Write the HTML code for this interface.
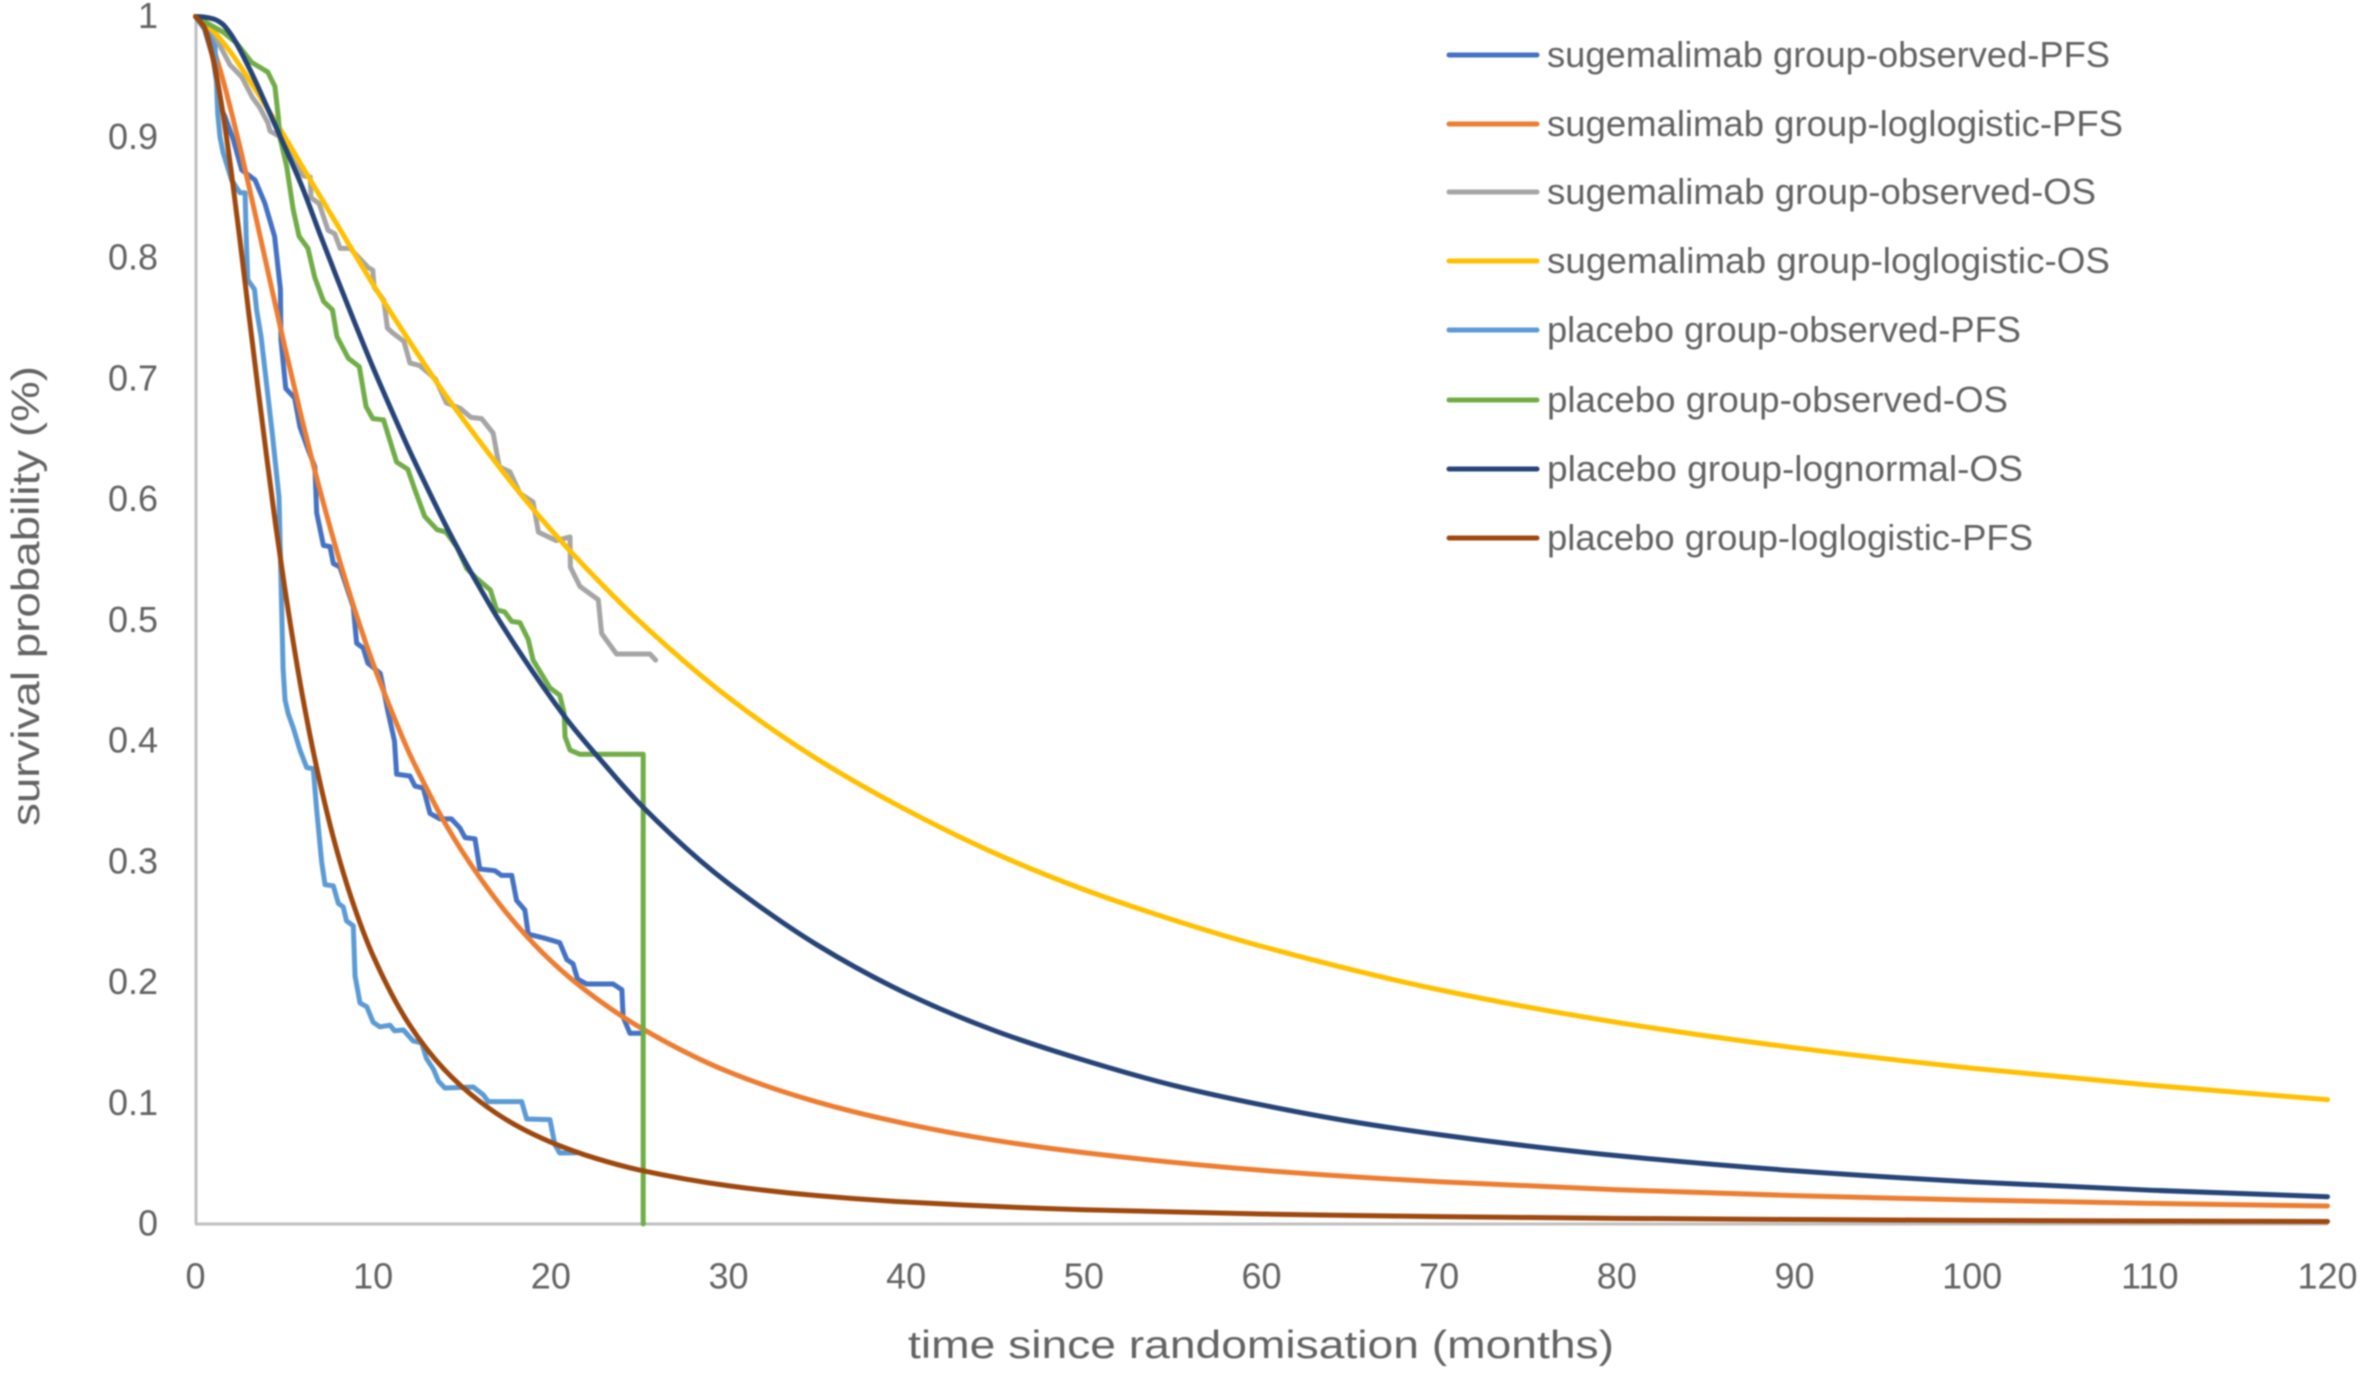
<!DOCTYPE html>
<html lang="en">
<head>
<meta charset="utf-8">
<title>Survival probability chart</title>
<style>
html,body{margin:0;padding:0;background:#fff;width:2362px;height:1374px;overflow:hidden}
svg{display:block;filter:blur(.7px)}
text{font-family:"Liberation Sans",sans-serif;fill:#636363}
</style>
</head>
<body>
<svg id="chart" xmlns="http://www.w3.org/2000/svg" width="2362" height="1374" viewBox="0 0 2362 1374">
  <g id="axes">
    <line x1="196" y1="16" x2="196" y2="1224" stroke="#bfbfbf" stroke-width="3"/>
    <line x1="195" y1="1224" x2="2328" y2="1224" stroke="#bfbfbf" stroke-width="3"/>
  </g>
  <g id="ticks"></g>
  <g id="series"></g>
  <text x="908" y="1358" font-size="39" textLength="706" lengthAdjust="spacingAndGlyphs">time since randomisation (months)</text>
  <text transform="translate(39,826) rotate(-90)" font-size="39" textLength="460" lengthAdjust="spacingAndGlyphs">survival probability (%)</text>
  <g id="legend">
    <g>
      <line x1="1449" x2="1537" y1="55" y2="55" stroke="#4472C4" stroke-width="5" stroke-linecap="round"/>
      <text x="1547" y="67" font-size="36" textLength="563" lengthAdjust="spacingAndGlyphs">sugemalimab group-observed-PFS</text>
    </g>
    <g>
      <line x1="1449" x2="1537" y1="124" y2="124" stroke="#ED7D31" stroke-width="5" stroke-linecap="round"/>
      <text x="1547" y="136" font-size="36" textLength="576" lengthAdjust="spacingAndGlyphs">sugemalimab group-loglogistic-PFS</text>
    </g>
    <g>
      <line x1="1449" x2="1537" y1="192" y2="192" stroke="#A5A5A5" stroke-width="5" stroke-linecap="round"/>
      <text x="1547" y="204" font-size="36" textLength="549" lengthAdjust="spacingAndGlyphs">sugemalimab group-observed-OS</text>
    </g>
    <g>
      <line x1="1449" x2="1537" y1="261" y2="261" stroke="#FFC000" stroke-width="5" stroke-linecap="round"/>
      <text x="1547" y="273" font-size="36" textLength="563" lengthAdjust="spacingAndGlyphs">sugemalimab group-loglogistic-OS</text>
    </g>
    <g>
      <line x1="1449" x2="1537" y1="330" y2="330" stroke="#5B9BD5" stroke-width="5" stroke-linecap="round"/>
      <text x="1547" y="342" font-size="36" textLength="474" lengthAdjust="spacingAndGlyphs">placebo group-observed-PFS</text>
    </g>
    <g>
      <line x1="1449" x2="1537" y1="400" y2="400" stroke="#70AD47" stroke-width="5" stroke-linecap="round"/>
      <text x="1547" y="412" font-size="36" textLength="461" lengthAdjust="spacingAndGlyphs">placebo group-observed-OS</text>
    </g>
    <g>
      <line x1="1449" x2="1537" y1="469" y2="469" stroke="#264478" stroke-width="5" stroke-linecap="round"/>
      <text x="1547" y="481" font-size="36" textLength="476" lengthAdjust="spacingAndGlyphs">placebo group-lognormal-OS</text>
    </g>
    <g>
      <line x1="1449" x2="1537" y1="538" y2="538" stroke="#9E480E" stroke-width="5" stroke-linecap="round"/>
      <text x="1547" y="550" font-size="36" textLength="486" lengthAdjust="spacingAndGlyphs">placebo group-loglogistic-PFS</text>
    </g>
  </g>
</svg>
<script>
const xTickLabels = ["0","10","20","30","40","50","60","70","80","90","100","110","120"];
const yTickLabels = ["0","0.1","0.2","0.3","0.4","0.5","0.6","0.7","0.8","0.9","1"];

const sugObsPfsMonths = [0,0.5,1,1.4,1.66,2.13,2.6,3.35,3.9,4.07,4.45,4.78,4.81,5.08,5.58,5.88,6.35,6.72,6.82,7.2,7.57,7.76,8.13,8.88,9.07,9.44,9.7,10.4,10.85,11.2,11.32,12.07,12.35,12.82,13.2,13.76,14.4,14.88,15.17,15.73,16,16.85,17.23,17.8,18.07,18.54,18.73,19.57,20.5,20.9,21.25,21.5,22,23.5,24,24.07,24.45,25.2];
const sugObsPfsSurvival = [1,0.99,0.965,0.925,0.917,0.898,0.873,0.8646,0.8455,0.837,0.818,0.774,0.732,0.692,0.684,0.66,0.641,0.627,0.589,0.562,0.561,0.547,0.544,0.511,0.481,0.477,0.4645,0.456,0.423,0.4,0.3725,0.371,0.3627,0.361,0.34,0.3355,0.3355,0.328,0.32,0.319,0.294,0.2926,0.2887,0.2887,0.268,0.26,0.24,0.237,0.233,0.219,0.2155,0.203,0.1988,0.1988,0.194,0.1714,0.158,0.158];

const sugFitPfsMonths = [0,0.5,1,1.5,2,2.5,3,4,5,6,7,8,9,10,11,12,13,14,16,18,20,22,25,30,35,40,45,50,60,70,80,90,100,110,120];
const sugFitPfsSurvival = [1,0.991,0.974,0.95,0.922,0.892,0.86,0.794,0.728,0.666,0.608,0.555,0.507,0.464,0.426,0.391,0.361,0.333,0.287,0.249,0.218,0.193,0.163,0.126,0.101,0.083,0.0693,0.0591,0.0445,0.035,0.0284,0.0235,0.0199,0.0171,0.0149];

const sugObsOsMonths = [0,1.3,1.94,2.6,3.2,3.6,4.07,4.2,4.82,5.5,6.08,6.46,6.5,6.96,7.46,7.84,8.14,8.7,9.73,9.98,10.05,10.6,10.8,11.1,11.73,12.07,12.6,13.5,14.12,14.9,15.5,16.1,16.75,17.1,17.7,18.26,19,19.3,20.3,21.08,21.1,21.64,22.67,22.86,23.7,25.58,25.9];
const sugObsOsSurvival = [1,0.978,0.96,0.95,0.933,0.925,0.912,0.905,0.9,0.88,0.868,0.867,0.85,0.845,0.823,0.82,0.808,0.808,0.792,0.79,0.776,0.765,0.742,0.738,0.731,0.713,0.711,0.7,0.68,0.6755,0.668,0.667,0.655,0.627,0.623,0.605,0.598,0.573,0.566,0.569,0.544,0.528,0.517,0.489,0.472,0.472,0.467];

const sugFitOsMonths = [0,1,2,3,4,5,6,8,10,12,14,16,18,20,22,25,30,35,40,45,50,55,60,70,80,90,100,110,120];
const sugFitOsSurvival = [1,0.988,0.97,0.948,0.925,0.901,0.876,0.827,0.778,0.732,0.688,0.648,0.61,0.575,0.543,0.499,0.436,0.385,0.343,0.307,0.277,0.252,0.23,0.194,0.167,0.146,0.129,0.115,0.103];

const plaObsPfsMonths = [0,0.82,1.1,1.25,1.38,1.56,2.03,2.5,2.79,2.85,2.94,3.32,3.44,3.69,3.95,4.32,4.7,4.93,5.04,5.22,5.5,5.88,6.26,6.63,6.82,7.1,7.29,7.76,8.04,8.32,8.5,8.88,8.98,9.26,9.64,10,10.38,10.95,11.2,11.7,12.25,12.73,13,13.4,13.67,14.04,15.63,16.2,16.48,18.36,18.64,19.95,20.23,20.5,21.45];
const plaObsPfsSurvival = [1,0.983,0.975,0.92,0.9,0.887,0.8646,0.854,0.854,0.82,0.782,0.774,0.757,0.735,0.702,0.655,0.602,0.46,0.434,0.4225,0.411,0.3925,0.378,0.377,0.343,0.3,0.281,0.28,0.2655,0.2625,0.251,0.247,0.2055,0.183,0.18,0.167,0.1633,0.1646,0.16,0.1607,0.1516,0.15,0.137,0.128,0.1184,0.1126,0.1135,0.107,0.1013,0.1013,0.087,0.0864,0.0656,0.0588,0.059];

const plaObsOsMonths = [0,1.56,2.31,3.16,4.07,4.47,4.66,4.75,5.13,5.5,5.83,6.33,6.71,7.21,7.71,7.96,8.6,9.22,9.6,9.98,10.58,11.32,11.95,12.35,12.9,13.6,14.1,14.7,15.26,15.8,16.6,16.95,17.4,17.8,18.26,18.73,19,19.95,20.5,20.75,20.8,21.08,21.64,25.2,25.2];
const plaObsOsSurvival = [1,0.987,0.978,0.962,0.954,0.942,0.917,0.9,0.876,0.84,0.818,0.808,0.784,0.764,0.757,0.735,0.717,0.71,0.677,0.667,0.666,0.631,0.625,0.608,0.586,0.575,0.573,0.561,0.543,0.535,0.525,0.5085,0.507,0.499,0.498,0.484,0.467,0.444,0.438,0.423,0.4036,0.3925,0.389,0.389,0];

const plaFitOsMonths = [0,0.5,1,1.5,2,3,4,5,6,7,8,9,10,11,12,13,14,15,16,17,18,19,20,21,22,23,24,25.2,28.4,30,35,40,45,50,55,60,65,70,75,80,90,100,110,120];
const plaFitOsSurvival = [1,0.9995,0.998,0.994,0.985,0.958,0.926,0.893,0.859,0.82,0.782,0.745,0.709,0.675,0.642,0.611,0.581,0.553,0.527,0.502,0.479,0.457,0.436,0.416,0.398,0.381,0.364,0.345,0.301,0.282,0.231,0.191,0.16,0.1357,0.115,0.0987,0.085,0.074,0.0646,0.0566,0.0441,0.0349,0.028,0.0226];

const plaFitPfsMonths = [0,0.5,1,1.5,2,2.5,3,3.5,4,4.5,5,6,7,8,9,10,12,14,16,18,20,22.5,25,30,35,40,50,60,70,80,90,100,110,120];
const plaFitPfsSurvival = [1,0.991,0.964,0.924,0.873,0.815,0.754,0.694,0.636,0.58,0.529,0.439,0.366,0.307,0.26,0.222,0.166,0.128,0.1015,0.082,0.0678,0.0545,0.0447,0.0317,0.0235,0.0182,0.0118,0.0083,0.0061,0.0047,0.0037,0.003,0.0025,0.0021];

const SVG_NS = 'http://www.w3.org/2000/svg';
const xScale = function (m) { return 195.5 + m * (2327.5 - 195.5) / 120; };
const yScale = function (s) { return 1224 - s * 1207.5; };

const linePath = function (ts, ss) {
  return ts.map(function (t, i) {
    return (i ? 'L' : 'M') + xScale(t).toFixed(2) + ' ' + yScale(ss[i]).toFixed(2);
  }).join(' ');
};

const smoothPath = function (ts, ss) {
  const xs = ts.map(xScale);
  const ys = ss.map(yScale);
  const n = xs.length;
  const h = [];
  const d = [];
  for (let i = 0; i < n - 1; i++) {
    h.push(xs[i + 1] - xs[i]);
    d.push((ys[i + 1] - ys[i]) / h[i]);
  }
  const m = [d[0]];
  for (let i = 1; i < n - 1; i++) {
    if (d[i - 1] * d[i] <= 0) {
      m.push(0);
    } else {
      const w1 = 2 * h[i] + h[i - 1];
      const w2 = h[i] + 2 * h[i - 1];
      m.push((w1 + w2) / (w1 / d[i - 1] + w2 / d[i]));
    }
  }
  m.push(d[n - 2]);
  let out = 'M' + xs[0].toFixed(2) + ' ' + ys[0].toFixed(2);
  for (let i = 0; i < n - 1; i++) {
    out += ' C' + (xs[i] + h[i] / 3).toFixed(2) + ' ' + (ys[i] + m[i] * h[i] / 3).toFixed(2) +
      ' ' + (xs[i + 1] - h[i] / 3).toFixed(2) + ' ' + (ys[i + 1] - m[i + 1] * h[i] / 3).toFixed(2) +
      ' ' + xs[i + 1].toFixed(2) + ' ' + ys[i + 1].toFixed(2);
  }
  return out;
};

const addSeries = function (name, d, color) {
  const el = document.createElementNS(SVG_NS, 'path');
  
  
  el.setAttribute('d', d);
  el.setAttribute('fill', 'none');
  el.setAttribute('stroke', color);
  el.setAttribute('stroke-width', '5');
  el.setAttribute('stroke-linejoin', 'round');
  el.setAttribute('stroke-linecap', 'round');
  document.getElementById('series').appendChild(el);
};

addSeries('line-sugemalimab-observed-pfs', linePath(sugObsPfsMonths, sugObsPfsSurvival), '#4472C4');
addSeries('line-sugemalimab-loglogistic-pfs', smoothPath(sugFitPfsMonths, sugFitPfsSurvival), '#ED7D31');
addSeries('line-sugemalimab-observed-os', linePath(sugObsOsMonths, sugObsOsSurvival), '#A5A5A5');
addSeries('line-sugemalimab-loglogistic-os', smoothPath(sugFitOsMonths, sugFitOsSurvival), '#FFC000');
addSeries('line-placebo-observed-pfs', linePath(plaObsPfsMonths, plaObsPfsSurvival), '#5B9BD5');
addSeries('line-placebo-observed-os', linePath(plaObsOsMonths, plaObsOsSurvival), '#70AD47');
addSeries('line-placebo-lognormal-os', smoothPath(plaFitOsMonths, plaFitOsSurvival), '#264478');
addSeries('line-placebo-loglogistic-pfs', smoothPath(plaFitPfsMonths, plaFitPfsSurvival), '#9E480E');

const tickGroup = document.getElementById('ticks');
xTickLabels.forEach(function (label) {
  const t = document.createElementNS(SVG_NS, 'text');
  
  
  t.setAttribute('x', xScale(Number(label)));
  t.setAttribute('y', 1288.5);
  t.setAttribute('font-size', '36');
  t.setAttribute('text-anchor', 'middle');
  t.textContent = label;
  tickGroup.appendChild(t);
});
yTickLabels.forEach(function (label) {
  const t = document.createElementNS(SVG_NS, 'text');
  
  
  t.setAttribute('x', 158);
  t.setAttribute('y', yScale(Number(label)) + 11.5);
  t.setAttribute('font-size', '36');
  t.setAttribute('text-anchor', 'end');
  t.textContent = label;
  tickGroup.appendChild(t);
});
</script>
</body>
</html>
